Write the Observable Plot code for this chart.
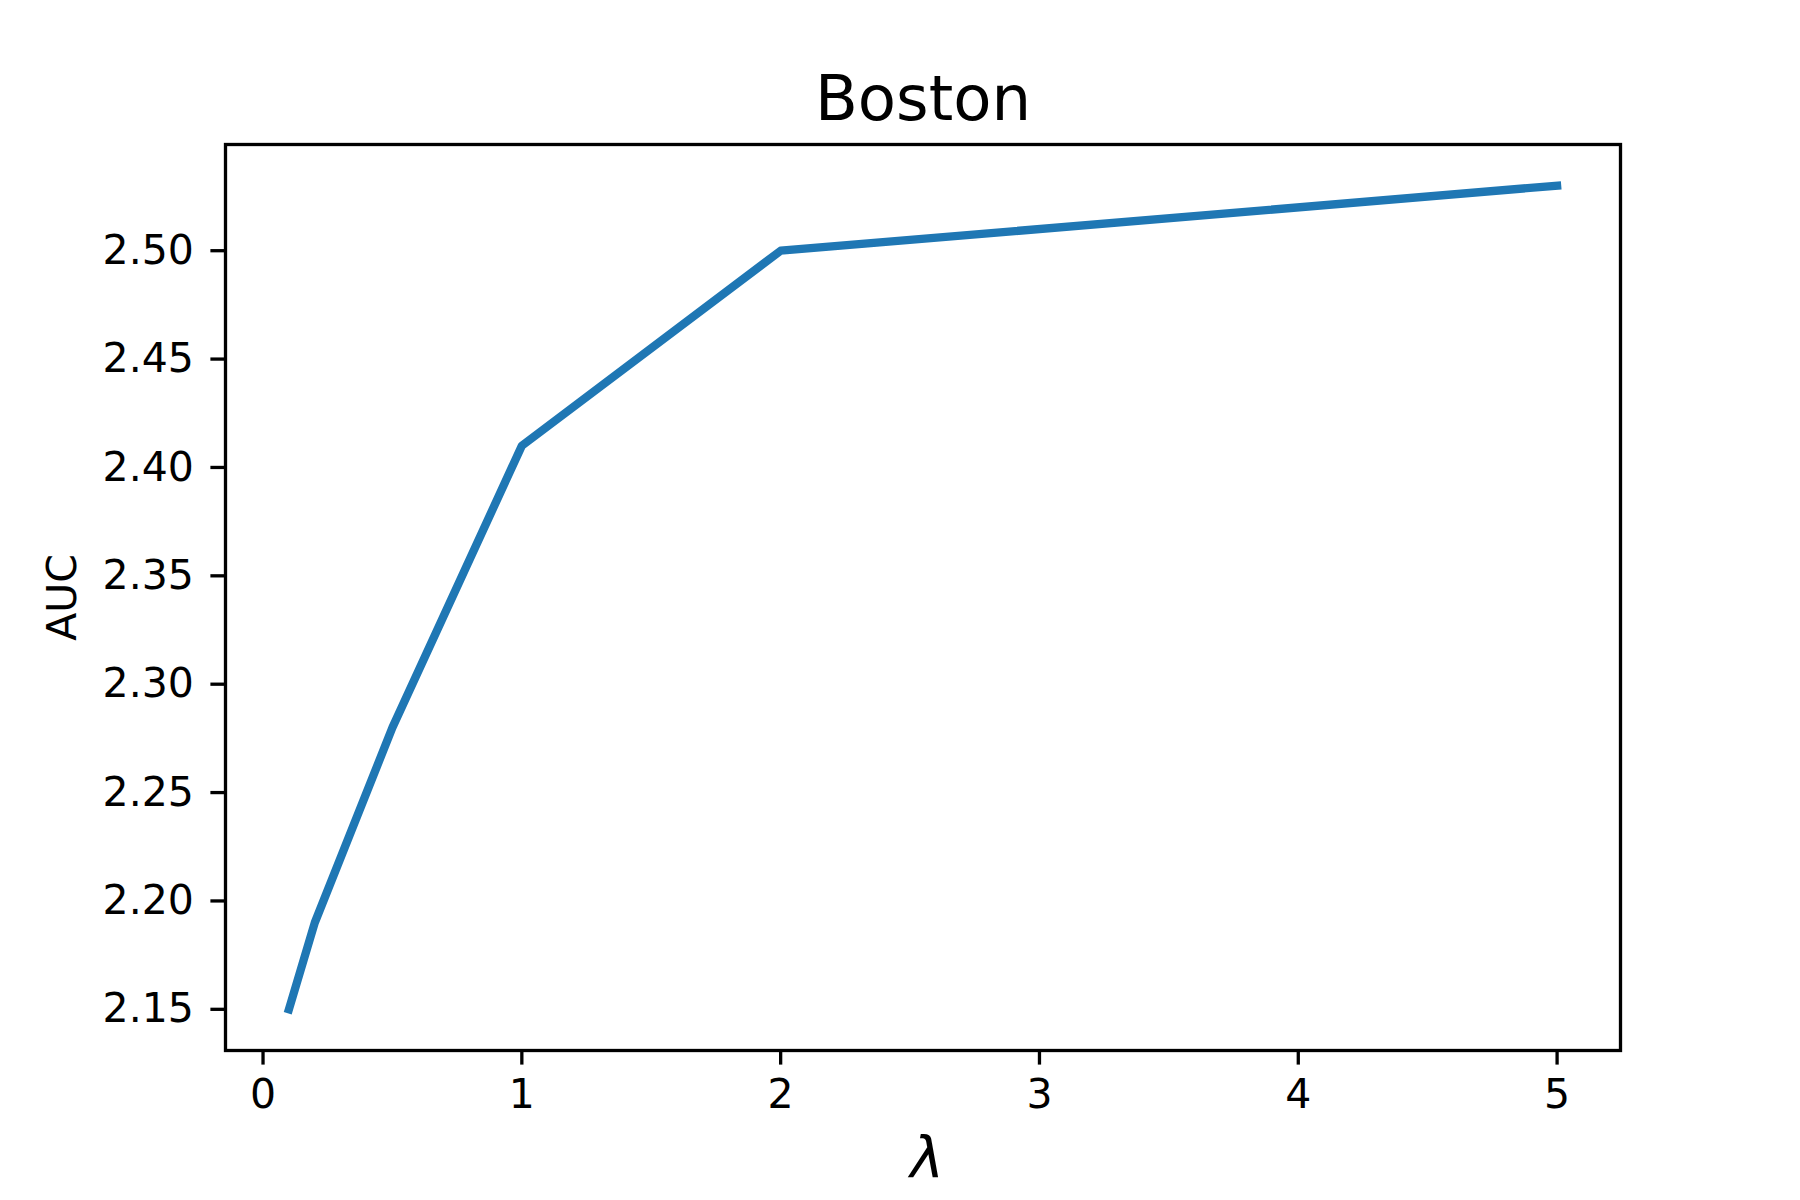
<!DOCTYPE html>
<html>
<head>
<meta charset="utf-8">
<script src="https://cdn.jsdelivr.net/npm/d3@7"></script>
<script src="https://cdn.jsdelivr.net/npm/@observablehq/plot@0.6"></script>
<style>
  html, body { margin: 0; padding: 0; background: #fff; }
  #chart svg { display: block; }
</style>
</head>
<body>
<div id="chart"></div>
<script>
const lambdas = [0.1, 0.2, 0.5, 1, 2, 5];
const auc = [2.15, 2.19, 2.28, 2.41, 2.50, 2.53];
const xTicks = [0, 1, 2, 3, 4, 5];
const yTicks = [2.15, 2.20, 2.25, 2.30, 2.35, 2.40, 2.45, 2.50];
const title = "Boston";
const xLabel = "λ";
const yLabel = "AUC";

const data = lambdas.map((x, i) => ({x, y: auc[i]}));

const font = "'DejaVu Sans', sans-serif";

const chart = Plot.plot({
  width: 1800,
  height: 1200,
  marginLeft: 225,
  marginRight: 180,
  marginTop: 144,
  marginBottom: 150,
  style: {background: "#fff", color: "#000", fontFamily: font},
  x: {domain: [-0.145, 5.245], inset: 0},
  y: {domain: [2.131, 2.549], inset: 0},
  marks: [
    Plot.line(data, {x: "x", y: "y", stroke: "#1f77b4", strokeWidth: 8.3, strokeLinecap: "square", strokeLinejoin: "round"}),
    Plot.frame({stroke: "#000", strokeWidth: 3.3}),
    Plot.axisX({ticks: xTicks, tickFormat: d3.format("d"), tickSize: 14.6, tickPadding: 14, strokeWidth: 3.3, fontSize: 41, label: null}),
    Plot.axisY({ticks: yTicks, tickFormat: d3.format(".2f"), tickSize: 14.6, tickPadding: 17, strokeWidth: 3.3, fontSize: 41, label: null}),
    Plot.text([title], {text: d => d, frameAnchor: "top", dy: -25, lineAnchor: "bottom", fontSize: 62.5, fill: "#000"}),
    Plot.text([xLabel], {text: d => d, frameAnchor: "bottom", dx: 4, dy: 108, lineAnchor: "middle", fontSize: 57, fontStyle: "italic", fill: "#000"}),
    Plot.text([yLabel], {text: d => d, frameAnchor: "left", dx: -163, rotate: -90, textAnchor: "middle", lineAnchor: "middle", fontSize: 41, fill: "#000"})
  ]
});
document.getElementById("chart").appendChild(chart);
</script>
</body>
</html>
